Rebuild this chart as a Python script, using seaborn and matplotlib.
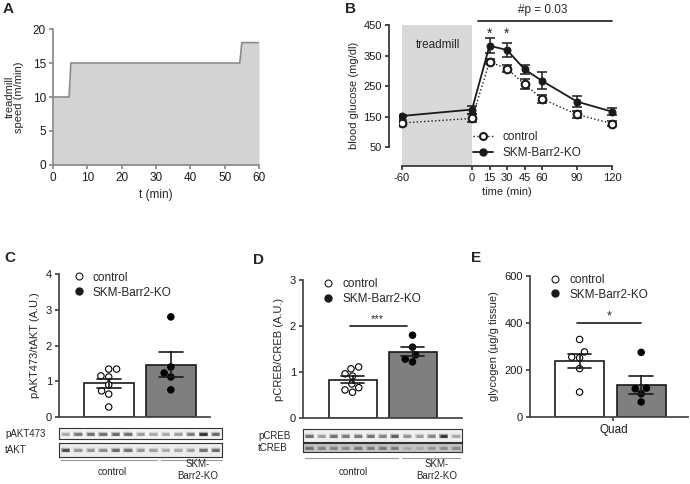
import numpy as np
import pandas as pd
import matplotlib
matplotlib.use("Agg")
import matplotlib.pyplot as plt
from matplotlib.lines import Line2D
import seaborn as sns

sns.set_theme(style="ticks")
plt.rcParams["font.family"] = ["Liberation Sans", "DejaVu Sans"]
plt.rcParams["axes.unicode_minus"] = False

# A: treadmill protocol
treadmill_t = [0, 4.7, 5.2, 54.4, 55.0, 60]
treadmill_speed = [10, 10, 15, 15, 18, 18]

# B: blood glucose during / after treadmill
time_min = [-60, 0, 15, 30, 45, 60, 90, 120]
ctrl_glucose = [129, 144, 329, 307, 256, 208, 157, 127]
ctrl_glucose_sem = [9, 13, 8, 11, 17, 13, 11, 9]
ko_glucose = [152, 173, 382, 368, 305, 267, 199, 166]
ko_glucose_sem = [4, 13, 25, 24, 14, 28, 17, 11]

# C: pAKT473/tAKT
akt_ctrl = [1.34, 1.34, 1.12, 1.15, 0.90, 0.64, 0.73, 0.28]
akt_ko = [2.80, 1.40, 1.12, 1.23, 0.76]
# D: pCREB/CREB
creb_ctrl = [1.07, 1.11, 0.91, 0.96, 0.74, 0.66, 0.56, 0.61]
creb_ko = [1.80, 1.54, 1.37, 1.22, 1.28]
# E: glycogen in quad
glyc_ctrl = [330, 277, 252, 255, 206, 106]
glyc_ko = [275, 123, 99, 120, 64]

# blot band darkness per lane (8 control, 5 KO)
pakt_bands = [0.30, 0.55, 0.60, 0.60, 0.65, 0.60, 0.35, 0.30, 0.30, 0.35, 0.55, 0.90, 0.65]
takt_bands = [0.80, 0.40, 0.40, 0.45, 0.65, 0.60, 0.40, 0.35, 0.30, 0.30, 0.35, 0.60, 0.65]
pcreb_bands = [0.60, 0.35, 0.60, 0.55, 0.55, 0.60, 0.50, 0.70, 0.40, 0.35, 0.50, 0.90, 0.30]
tcreb_bands = [0.60, 0.50, 0.50, 0.45, 0.55, 0.55, 0.55, 0.55, 0.30, 0.30, 0.40, 0.45, 0.45]

groups = ["control", "SKM-Barr2-KO"]
W, H = 690, 484
fig = plt.figure(figsize=(6.9, 4.84), dpi=100)


def px_axes(left, top, right, bottom):
    return fig.add_axes([left / W, 1 - bottom / H, (right - left) / W, (bottom - top) / H])


def ftext(x, y, s, **kw):
    fig.text(x / W, 1 - y / H, s, **kw)


def fline(x0, x1, y, **kw):
    fig.add_artist(Line2D([x0 / W, x1 / W], [1 - y / H, 1 - y / H], transform=fig.transFigure, **kw))


# ---------------- A
axA = px_axes(53, 29, 259, 165)
axA.fill_between(treadmill_t, treadmill_speed, color="#d3d3d3", lw=0)
sns.lineplot(x=treadmill_t, y=treadmill_speed, ax=axA, color="#8a8a8a", lw=1.2)
axA.set_xlim(0, 60)
axA.set_ylim(0, 20)
axA.set_xticks(range(0, 61, 10))
axA.set_yticks(range(0, 21, 5))
for s in ["top", "right"]:
    axA.spines[s].set_visible(False)
for s in ["left", "bottom"]:
    axA.spines[s].set_color("#8a8a8a")
axA.tick_params(colors="#8a8a8a", labelcolor="k", labelsize=8.5, length=3, pad=2)
axA.set_ylabel("treadmill\nspeed (m/min)", fontsize=8, linespacing=1.0, labelpad=6)
axA.set_xlabel("t (min)", fontsize=8.5, labelpad=4)

# ---------------- B
axB = px_axes(398.5, 25, 615.5, 166)
axB.axvspan(-60, 0, color="#d9d9d9", lw=0, zorder=0)
axB.text(-29, 384, "treadmill", ha="center", va="center", fontsize=8.5)
sns.lineplot(x=time_min, y=ctrl_glucose, ax=axB, color="k", lw=1, linestyle=":",
             marker="o", markerfacecolor="white", markeredgecolor="k",
             markeredgewidth=1.5, markersize=5.5, zorder=4)
axB.errorbar(time_min, ctrl_glucose, yerr=ctrl_glucose_sem, fmt="none", ecolor="k",
             elinewidth=1.1, capsize=3.5, capthick=1.1, zorder=3)
sns.lineplot(x=time_min, y=ko_glucose, ax=axB, color="k", lw=1.3,
             marker="o", markerfacecolor="k", markeredgecolor="k", markersize=5, zorder=5)
axB.errorbar(time_min, ko_glucose, yerr=ko_glucose_sem, fmt="none", ecolor="k",
             elinewidth=1.1, capsize=3.5, capthick=1.1, zorder=5)
axB.set_xlim(-63, 123)
axB.set_ylim(-12, 450)
axB.set_xticks(time_min)
axB.set_yticks([50, 150, 250, 350, 450])
axB.spines[["top", "right"]].set_visible(False)
axB.spines["left"].set_bounds(50, 450)
axB.spines["left"].set_position(("outward", 7))
axB.spines["bottom"].set_bounds(-60, 120)
for s in ["left", "bottom"]:
    axB.spines[s].set_color("#333333")
axB.tick_params(colors="#333333", labelcolor="k", labelsize=8, length=3, pad=2)
axB.set_ylabel("blood glucose (mg/dl)", fontsize=8, labelpad=3)
axB.set_xlabel("time (min)", fontsize=8, labelpad=3)
for t in [15, 30]:
    axB.text(t, 422, "*", ha="center", va="center", fontsize=10)
axB.plot([5, 120], [463, 463], color="k", lw=1.2, clip_on=False)
axB.text(61, 500, "#p = 0.03", ha="center", va="center", fontsize=8.5)
b_handles = [Line2D([], [], color="k", ls=":", lw=1, marker="o", mfc="white", mec="k", mew=1.5, ms=5),
             Line2D([], [], color="k", ls="-", lw=1.3, marker="o", mfc="k", mec="k", ms=5)]
axB.legend(b_handles, groups, loc="lower left", bbox_to_anchor=(0.31, 0.0), frameon=False,
           fontsize=8.5, handlelength=1.7, handletextpad=0.8, labelspacing=0.35, borderaxespad=0.2)

# ---------------- C, D, E bar panels
pt_handles = [Line2D([], [], ls="none", marker="o", mfc="white", mec="k", mew=0.8, ms=5),
              Line2D([], [], ls="none", marker="o", mfc="k", mec="k", ms=5)]


def bar_panel(ax, ctrl, ko, xlim, ylim, yticks, ylabel, leg_x):
    df = pd.DataFrame({"group": [groups[0]] * len(ctrl) + [groups[1]] * len(ko),
                       "value": list(ctrl) + list(ko)})
    sns.barplot(data=df, x="group", y="value", hue="group", order=groups, hue_order=groups,
                palette={groups[0]: "white", groups[1]: "#7f7f7f"}, errorbar="se",
                capsize=0.38, err_kws={"color": "k", "linewidth": 1.2},
                edgecolor="k", linewidth=1.2, width=0.8, legend=False, ax=ax)
    sns.swarmplot(data=df, x="group", y="value", hue="group", order=groups, hue_order=groups,
                  palette={groups[0]: "white", groups[1]: "black"}, edgecolor="black",
                  linewidth=0.8, size=4.6, legend=False, ax=ax)
    for ln in ax.lines:
        ln.set_zorder(6)
    ax.set_xlim(*xlim)
    ax.set_ylim(*ylim)
    ax.set_yticks(yticks)
    ax.spines[["top", "right"]].set_visible(False)
    for s in ["left", "bottom"]:
        ax.spines[s].set_color("#444444")
    ax.tick_params(colors="#444444", labelcolor="k", labelsize=8, length=3, pad=2)
    ax.set_xlabel("")
    ax.set_ylabel(ylabel, fontsize=8, labelpad=4)
    ax.legend(pt_handles, groups, loc="upper left", bbox_to_anchor=(leg_x, 1.05), frameon=False,
              fontsize=8.5, handlelength=1.0, handletextpad=0.7, labelspacing=0.25, borderaxespad=0)


axC = px_axes(59, 274, 210, 417)
bar_panel(axC, akt_ctrl, akt_ko, (-0.8, 1.63), (0, 4), [0, 1, 2, 3, 4], "pAKT473/tAKT (A.U.)", 0.06)
axC.set_xticks([])

axD = px_axes(303, 280, 462, 418)
bar_panel(axD, creb_ctrl, creb_ko, (-0.825, 1.825), (0, 3), [0, 1, 2, 3], "pCREB/CREB (A.U.)", 0.09)
axD.set_xticks([])
axD.plot([-0.05, 0.9], [1.99, 1.99], color="k", lw=1.2)
axD.text(0.42, 2.14, "***", ha="center", va="center", fontsize=8)

axE = px_axes(530, 276, 688, 417)
bar_panel(axE, glyc_ctrl, glyc_ko, (-0.805, 1.76), (0, 600), [0, 200, 400, 600],
          "glycogen (\u00b5g/g tissue)", 0.09)
axE.set_xticks([0.55])
axE.set_xticklabels(["Quad"], fontsize=8.5)
axE.plot([-0.04, 1.0], [400, 400], color="k", lw=1.2)
axE.text(0.48, 428, "*", ha="center", va="center", fontsize=9)


# ---------------- western blots
def blot(left, top, right, bottom, bands, bg):
    ax = px_axes(left, top, right, bottom)
    ax.set_facecolor(bg)
    lanes = np.arange(len(bands))
    for i, v in zip(lanes, bands):
        ax.hlines(0, i - 0.36, i + 0.36, color=plt.cm.Greys(0.2 + 0.55 * v), lw=3.2, alpha=0.5)
        ax.hlines(0, i - 0.30, i + 0.30, color=plt.cm.Greys(0.25 + 0.65 * v), lw=2.0)
    ax.set_xlim(-0.5, len(bands) - 0.5)
    ax.set_ylim(-1, 1)
    ax.set_xticks([])
    ax.set_yticks([])
    for s in ax.spines.values():
        s.set_color("#333333")
        s.set_linewidth(0.8)
    return ax


blot(59, 428, 222, 439, pakt_bands, "#f2f2f2")
blot(59, 443, 222, 457, takt_bands, "#ececec")
ftext(5, 434, "pAKT473", fontsize=7, va="center")
ftext(5, 450, "tAKT", fontsize=7, va="center")
fline(61, 157, 460, color="#999999", lw=0.8)
fline(161, 222, 460, color="#999999", lw=0.8)
ftext(112, 472, "control", fontsize=7, ha="center", va="center")
ftext(198, 470, "SKM-\nBarr2-KO", fontsize=7, ha="center", va="center", linespacing=1.2)

blot(303, 429, 462, 442, pcreb_bands, "#f0f0f0")
blot(303, 443, 462, 452, tcreb_bands, "#c4c4c4")
ftext(258, 436, "pCREB", fontsize=7, va="center")
ftext(258, 448, "tCREB", fontsize=7, va="center")
fline(305, 398, 458, color="#999999", lw=0.8)
fline(402, 460, 458, color="#999999", lw=0.8)
ftext(353, 472, "control", fontsize=7, ha="center", va="center")
ftext(437, 470, "SKM-\nBarr2-KO", fontsize=7, ha="center", va="center", linespacing=1.2)

# panel letters
for x, y, s in [(3, 9, "A"), (345, 9, "B"), (4, 258, "C"), (253, 260, "D"), (471, 258, "E")]:
    ftext(x, y, s, fontsize=11, fontweight="bold", va="center")

fig.savefig("out.png", dpi=100)
